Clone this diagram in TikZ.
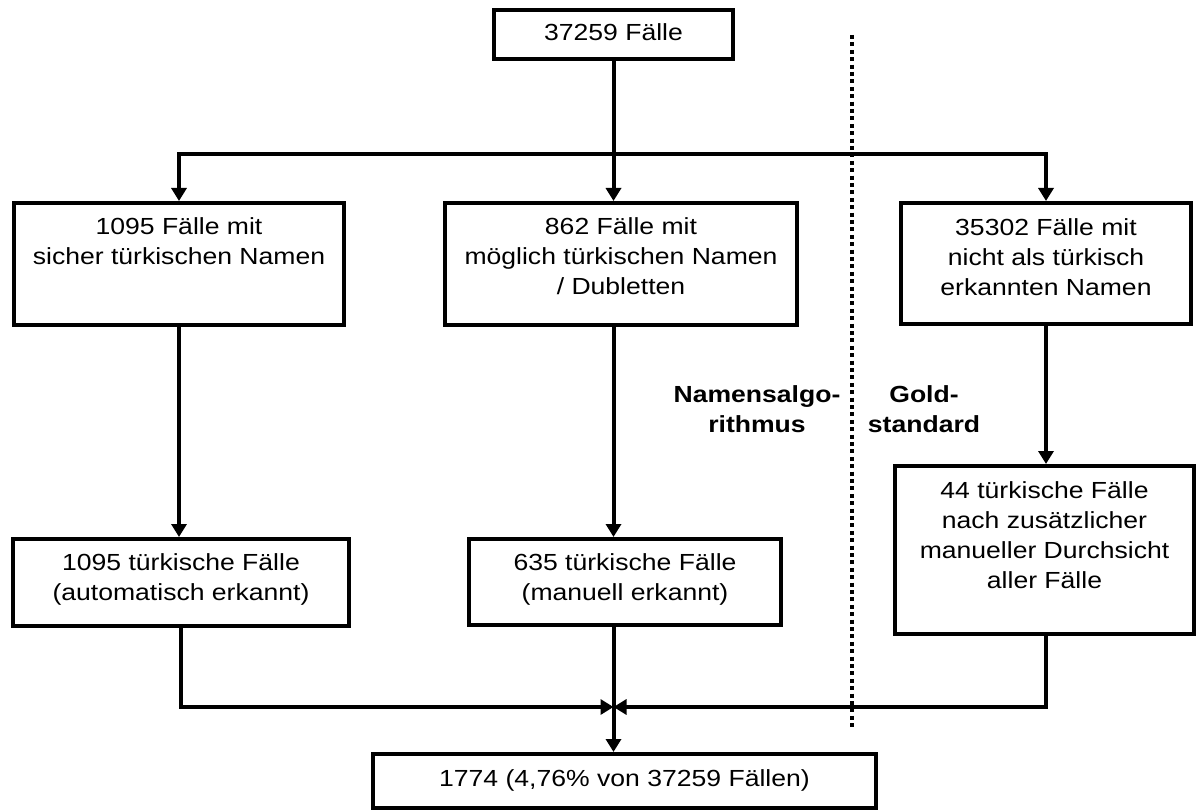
\documentclass[tikz,border=0pt]{standalone}
\usepackage{fontspec}
\setmainfont{Liberation Sans}[FakeStretch=1.14]
\usetikzlibrary{arrows.meta,calc}
\begin{document}
\begin{tikzpicture}[x=1pt,y=-1pt,
  box/.style={draw=black, line width=4pt, inner sep=0pt, fill=white},
  txt/.style={inner sep=0pt, align=center, font=\fontsize{23.3}{30}\selectfont, anchor=base},
  lbl/.style={inner sep=0pt, align=center, font=\fontsize{23.3}{30}\selectfont\bfseries, anchor=base},
  conn/.style={line width=4pt, draw=black},
  arr/.style={-{Triangle[length=13pt,width=15pt]}},
  dotline/.style={line width=4pt, dash pattern=on 4pt off 3.4pt}
]
\useasboundingbox (0,0) rectangle (1198,810);

% boxes
\node[box, minimum width=239pt, minimum height=49pt] (top) at (613.5,34.5) {};
\node[box, minimum width=330pt, minimum height=122pt] (b1) at (179,264) {};
\node[box, minimum width=352pt, minimum height=122pt] (b2) at (621,264) {};
\node[box, minimum width=290pt, minimum height=121pt] (b3) at (1046,263.5) {};
\node[box, minimum width=336pt, minimum height=87pt] (b4) at (181,582.5) {};
\node[box, minimum width=312pt, minimum height=86pt] (b5) at (625,582) {};
\node[box, minimum width=299pt, minimum height=168pt] (b6) at (1044.5,550) {};
\node[box, minimum width=503pt, minimum height=54pt] (bot) at (624.5,781) {};

% texts (anchor=base is the baseline of the last line)
\node[txt] (ttop) at ($(top.north)+(0,33)$) {37259 Fälle};
\node[txt] (t1) at ($(b1.north)+(0,64)$) {1095 Fälle mit\\sicher türkischen Namen};
\node[txt] (t2) at ($(b2.north)+(0,93)$) {862 Fälle mit\\möglich türkischen Namen\\/ Dubletten};
\node[txt] (t3) at ($(b3.north)+(0,94)$) {35302 Fälle mit\\nicht als türkisch\\erkannten Namen};
\node[txt] (t4) at ($(b4.north)+(0,63)$) {1095 türkische Fälle\\(automatisch erkannt)};
\node[txt] (t5) at ($(b5.north)+(0,63)$) {635 türkische Fälle\\(manuell erkannt)};
\node[txt] (t6) at ($(b6.north)+(0,124)$) {44 türkische Fälle\\nach zusätzlicher\\manueller Durchsicht\\aller Fälle};
\node[txt] (tbot) at ($(bot.north)+(0,34)$) {1774 (4,76\% von 37259 Fällen)};

% side labels
\node[lbl] (lalg) at (757,432) {Namensalgo-\\rithmus};
\node[lbl] (lgold) at (924,432) {Gold-\\standard};

% dotted separator
\coordinate (dtop) at (852,35);
\coordinate (dbot) at (852,730);
\draw[dotline] (dtop) -- (dbot);

% connectors
\coordinate (split) at (613.5,154);
\coordinate (join) at (613.5,707);
\draw[conn] (top.south) -- (split);
\draw[conn,arr] (split) -- (split |- b2.north);
\draw[conn,arr] (split) -| (b1.north);
\draw[conn,arr] (split) -| (b3.north);
\draw[conn,arr] (b1.south) -- (b1.south |- b4.north);
\draw[conn,arr] (b2.south -| split) -- (b5.north -| split);
\draw[conn,arr] (b3.south) -- (b3.south |- b6.north);
\draw[conn,arr] (b4.south) |- (join);
\draw[conn,arr] (b6.south -| b3.south) |- (join);
\draw[conn,arr] (b5.south -| join) -- (bot.north -| join);
\end{tikzpicture}
\end{document}
